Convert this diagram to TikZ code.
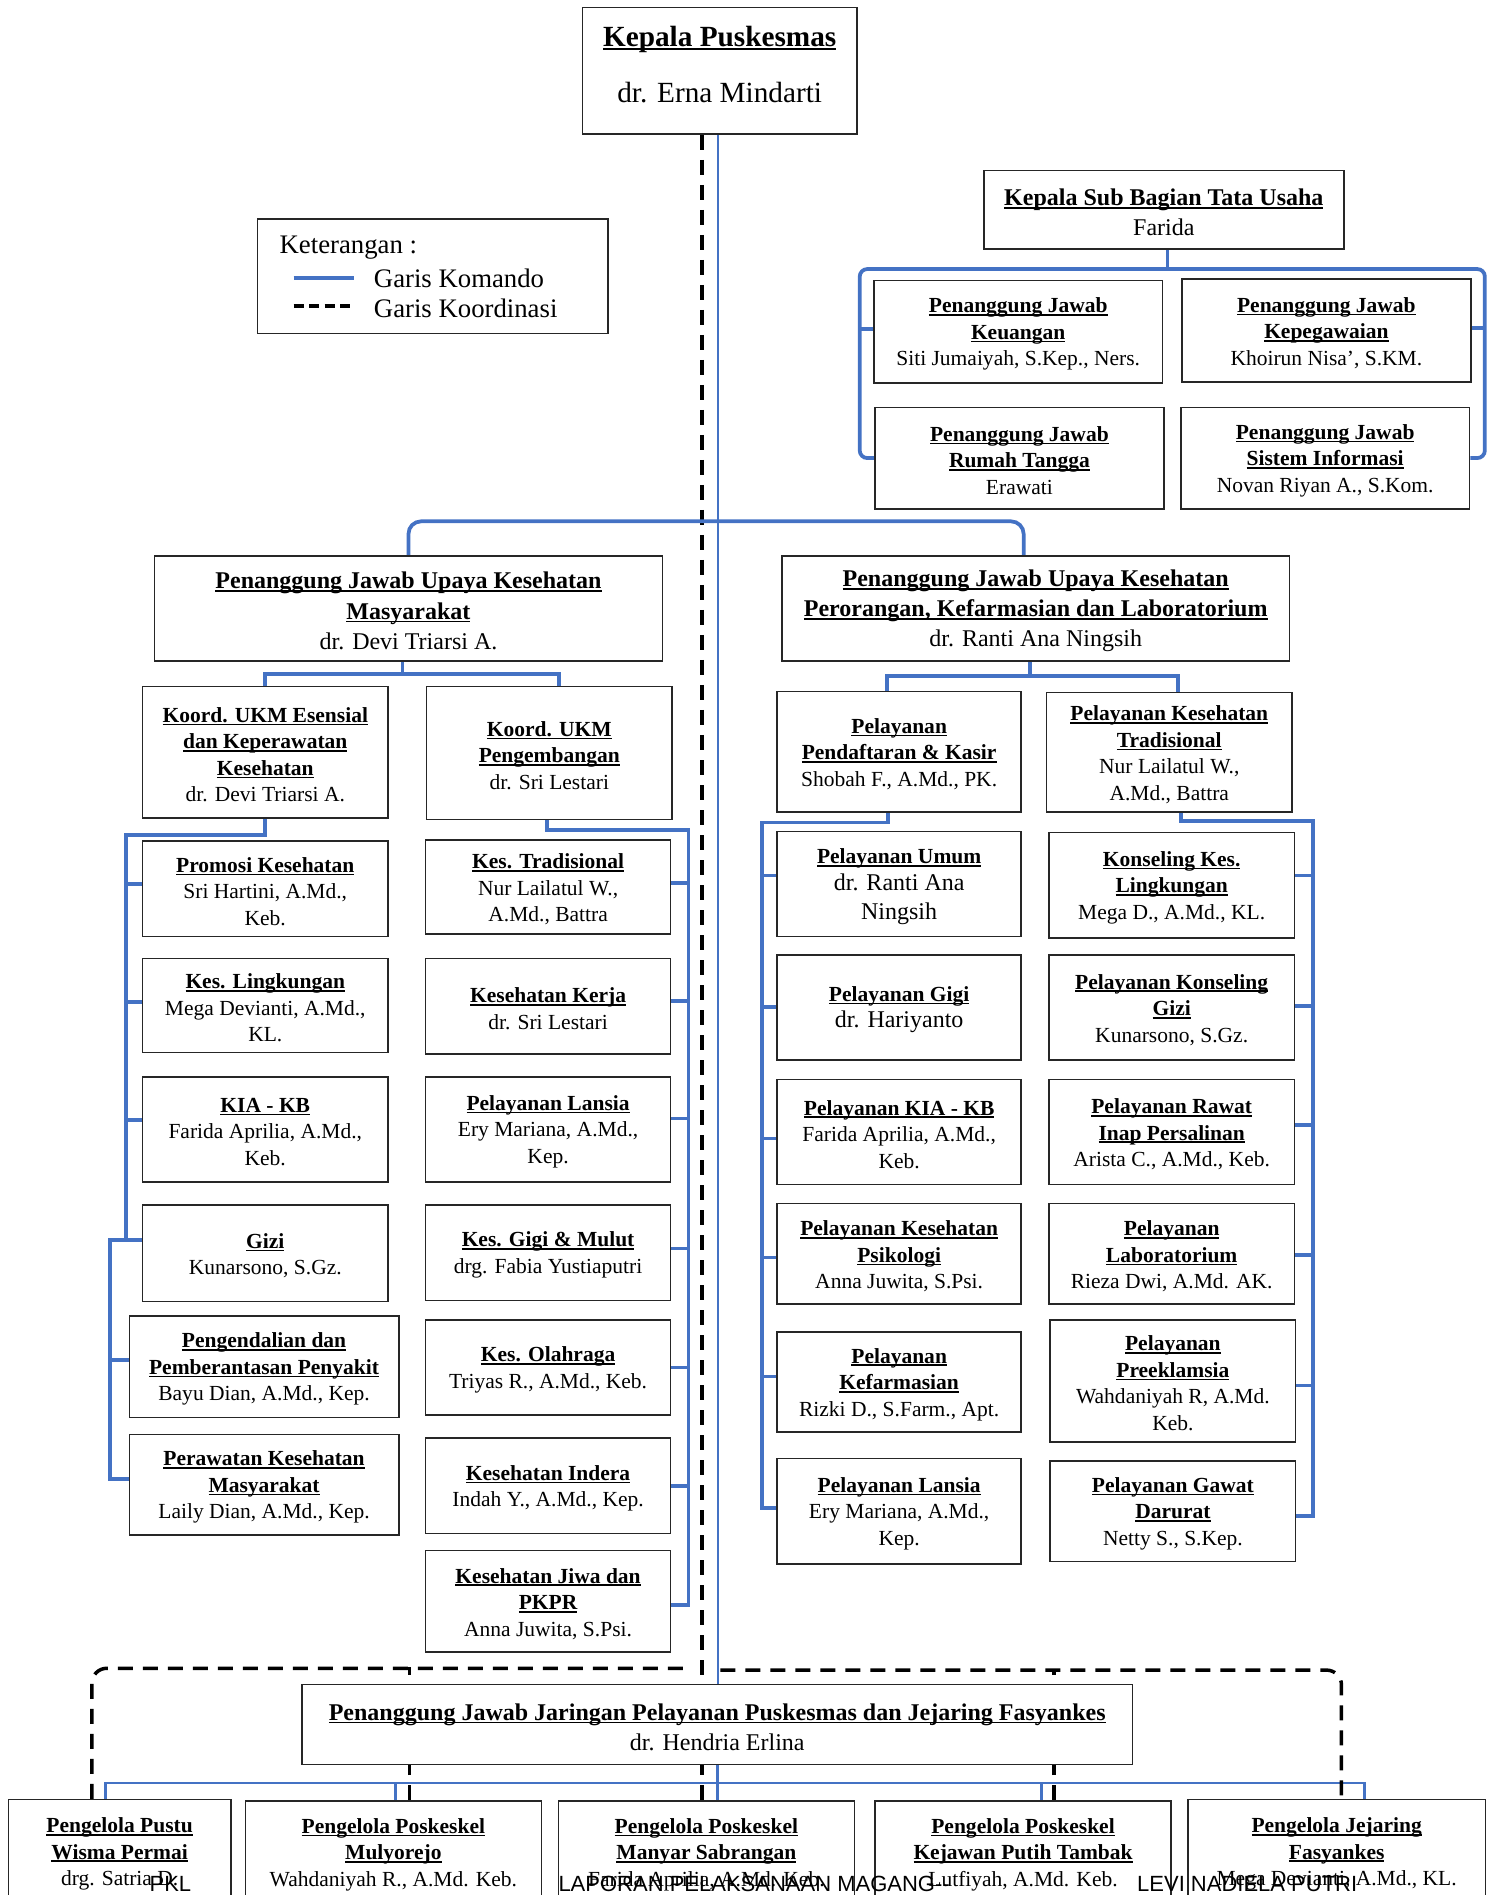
\documentclass[tikz,border=0pt]{standalone}
\usepackage{fontspec}
\setmainfont{Liberation Serif}
\newfontfamily\footfont{Liberation Sans}
\usetikzlibrary{fit,calc}
\pgfdeclarelayer{bg}
\pgfsetlayers{bg,main}
\definecolor{kblue}{HTML}{4472C4}
\newcommand\hdl[1]{\leavevmode\setbox0\hbox{\bfseries #1}\rlap{\rule[-0.14em]{\wd0}{0.075em}}\box0}
\newcommand\fsm{\fontsize{8.6pt}{10.6pt}\selectfont}
\newcommand\fbg{\fontsize{9.6pt}{12.1pt}\selectfont}
\newcommand\ftop{\fontsize{11.7pt}{14pt}\selectfont}
\newcommand\fleg{\fontsize{10.7pt}{12.1pt}\selectfont}
\tikzset{
  box/.style={draw=black!85, line width=0.6pt, fill=white, inner sep=0pt},
  txt/.style={inner sep=0pt},
  cmd/.style={draw=kblue, line width=1.5pt},
  cmdt/.style={draw=kblue, line width=1.1pt},
  crd/.style={draw=black, line width=1.4pt, dash pattern=on 6pt off 4pt},
}
% box: font, name, fit corners, text
\newcommand\bx[4]{\node[box, fit={#3}] (#2) {};
  \node[txt, align=center, font=#1] (#2-t) at ($(#2.center)+(0,2)$) {#4};}
\begin{document}
\begin{tikzpicture}[x=0.48336pt, y=-0.48336pt]
\useasboundingbox (0,0) rectangle (1238,1568);

% top
\node[box, fit={(482,6) (709,111)}] (kp) {};
\node[txt, align=center, font=\ftop] (kp-t) at ($(kp.center)+(0,-5)$) {\hdl{Kepala Puskesmas}\\[8.7pt]dr. Erna Mindarti};

% legend
\node[box, fit={(213,181) (503,276)}] (leg) {};
\node[txt, font=\fleg, anchor=west] (lk0) at (231,205) {Keterangan :};
\node[txt, font=\fleg, anchor=west] (lk1) at (309,230) {Garis Komando};
\node[txt, font=\fleg, anchor=west] (lk2) at (309,255) {Garis Koordinasi};
\draw[draw=kblue, line width=1.6pt] ($(lk1.west)+(-66,0)$) -- ($(lk1.west)+(-16,0)$);
\draw[line width=1.6pt, dash pattern=on 4pt off 2.2pt] ($(lk2.west)+(-66,-2)$) -- ($(lk2.west)+(-16,-2)$);

% tata usaha
\bx{\fbg}{tu}{(814,141) (1112,206)}{\hdl{Kepala Sub Bagian Tata Usaha}\\Farida}
\bx{\fsm}{keu}{(723,232) (962,317)}{\hdl{Penanggung Jawab}\\\hdl{Keuangan}\\Siti Jumaiyah, S.Kep., Ners.}
\bx{\fsm}{kpg}{(978,231) (1217,316)}{\hdl{Penanggung Jawab}\\\hdl{Kepegawaian}\\Khoirun Nisa’, S.KM.}
\bx{\fsm}{rt}{(724,337) (963,421)}{\hdl{Penanggung Jawab}\\\hdl{Rumah Tangga}\\Erawati}
\bx{\fsm}{si}{(977,337) (1216,421)}{\hdl{Penanggung Jawab}\\\hdl{Sistem Informasi}\\Novan Riyan A., S.Kom.}

% UKM / UKP
\bx{\fbg}{ukm}{(128,460) (548,547)}{\hdl{Penanggung Jawab Upaya Kesehatan}\\\hdl{Masyarakat}\\dr. Devi Triarsi A.}
\bx{\fbg}{ukp}{(647,460) (1067,547)}{\hdl{Penanggung Jawab Upaya Kesehatan}\\\hdl{Perorangan, Kefarmasian dan Laboratorium}\\dr. Ranti Ana Ningsih}

% UKM left column
\bx{\fsm}{ess}{(118,568) (321,677)}{\hdl{Koord. UKM Esensial}\\\hdl{dan Keperawatan}\\\hdl{Kesehatan}\\dr. Devi Triarsi A.}
\bx{\fsm}{promo}{(118,696) (321,775)}{\hdl{Promosi Kesehatan}\\Sri Hartini, A.Md.,\\Keb.}
\bx{\fsm}{ling}{(118,793) (321,871)}{\hdl{Kes. Lingkungan}\\Mega Devianti, A.Md.,\\KL.}
\bx{\fsm}{kia}{(118,891) (321,978)}{\hdl{KIA - KB}\\Farida Aprilia, A.Md.,\\Keb.}
\bx{\fsm}{gizi}{(118,997) (321,1077)}{\hdl{Gizi}\\Kunarsono, S.Gz.}
\bx{\fsm}{p2p}{(107,1089) (330,1173)}{\hdl{Pengendalian dan}\\\hdl{Pemberantasan Penyakit}\\Bayu Dian, A.Md., Kep.}
\bx{\fsm}{pkm}{(107,1187) (330,1270)}{\hdl{Perawatan Kesehatan}\\\hdl{Masyarakat}\\Laily Dian, A.Md., Kep.}

% UKM right column
\bx{\fsm}{pgb}{(353,568) (556,678)}{\hdl{Koord. UKM}\\\hdl{Pengembangan}\\dr. Sri Lestari}
\bx{\fsm}{trad}{(352,695) (555,773)}{\hdl{Kes. Tradisional}\\Nur Lailatul W.,\\A.Md., Battra}
\bx{\fsm}{kerja}{(352,793) (555,872)}{\hdl{Kesehatan Kerja}\\dr. Sri Lestari}
\bx{\fsm}{lansia}{(352,891) (555,978)}{\hdl{Pelayanan Lansia}\\Ery Mariana, A.Md.,\\Kep.}
\bx{\fsm}{gigi}{(352,997) (555,1076)}{\hdl{Kes. Gigi \& Mulut}\\drg. Fabia Yustiaputri}
\bx{\fsm}{olah}{(352,1092) (555,1171)}{\hdl{Kes. Olahraga}\\Triyas R., A.Md., Keb.}
\bx{\fsm}{indera}{(352,1190) (555,1269)}{\hdl{Kesehatan Indera}\\Indah Y., A.Md., Kep.}
\bx{\fsm}{jiwa}{(352,1283) (555,1367)}{\hdl{Kesehatan Jiwa dan}\\\hdl{PKPR}\\Anna Juwita, S.Psi.}

% UKP left column
\bx{\fsm}{daftar}{(643,572) (845,672)}{\hdl{Pelayanan}\\\hdl{Pendaftaran \& Kasir}\\Shobah F., A.Md., PK.}
\bx{\fsm}{umum}{(643,688) (845,775)}{\hdl{Pelayanan Umum}\\{\fbg dr. Ranti Ana}\\[1pt]{\fbg Ningsih}}
\bx{\fsm}{pgigi}{(643,790) (845,877)}{\hdl{Pelayanan Gigi}\\{\fbg dr. Hariyanto}}
\bx{\fsm}{pkia}{(643,893) (845,980)}{\hdl{Pelayanan KIA - KB}\\Farida Aprilia, A.Md.,\\Keb.}
\bx{\fsm}{psiko}{(643,996) (845,1079)}{\hdl{Pelayanan Kesehatan}\\\hdl{Psikologi}\\Anna Juwita, S.Psi.}
\bx{\fsm}{farm}{(643,1102) (845,1185)}{\hdl{Pelayanan}\\\hdl{Kefarmasian}\\Rizki D., S.Farm., Apt.}
\bx{\fsm}{plansia}{(643,1207) (845,1294)}{\hdl{Pelayanan Lansia}\\Ery Mariana, A.Md.,\\Kep.}

% UKP right column
\bx{\fsm}{ptrad}{(866,573) (1069,672)}{\hdl{Pelayanan Kesehatan}\\\hdl{Tradisional}\\Nur Lailatul W.,\\A.Md., Battra}
\bx{\fsm}{kling}{(868,689) (1071,776)}{\hdl{Konseling Kes.}\\\hdl{Lingkungan}\\Mega D., A.Md., KL.}
\bx{\fsm}{kgizi}{(868,790) (1071,877)}{\hdl{Pelayanan Konseling}\\\hdl{Gizi}\\Kunarsono, S.Gz.}
\bx{\fsm}{inap}{(868,893) (1071,980)}{\hdl{Pelayanan Rawat}\\\hdl{Inap Persalinan}\\Arista C., A.Md., Keb.}
\bx{\fsm}{lab}{(868,996) (1071,1079)}{\hdl{Pelayanan}\\\hdl{Laboratorium}\\Rieza Dwi, A.Md. AK.}
\bx{\fsm}{pre}{(869,1092) (1072,1193)}{\hdl{Pelayanan}\\\hdl{Preeklamsia}\\Wahdaniyah R, A.Md.\\Keb.}
\bx{\fsm}{ugd}{(869,1209) (1072,1292)}{\hdl{Pelayanan Gawat}\\\hdl{Darurat}\\Netty S., S.Kep.}

% Jaringan
\bx{\fbg}{jar}{(250,1394) (937,1460)}{\hdl{Penanggung Jawab Jaringan Pelayanan Puskesmas dan Jejaring Fasyankes}\\dr. Hendria Erlina}
\bx{\fsm}{pustu}{(7,1489) (191,1575)}{\hdl{Pengelola Pustu}\\\hdl{Wisma Permai}\\drg. Satria D.}
\bx{\fsm}{mul}{(203,1490) (448,1575)}{\hdl{Pengelola Poskeskel}\\\hdl{Mulyorejo}\\Wahdaniyah R., A.Md. Keb.}
\bx{\fsm}{man}{(462,1490) (707,1575)}{\hdl{Pengelola Poskeskel}\\\hdl{Manyar Sabrangan}\\Farida Aprilia, A.Md. Keb.}
\bx{\fsm}{kej}{(724,1490) (969,1575)}{\hdl{Pengelola Poskeskel}\\\hdl{Kejawan Putih Tambak}\\Lutfiyah, A.Md. Keb.}
\bx{\fsm}{jej}{(983,1489) (1229,1575)}{\hdl{Pengelola Jejaring}\\\hdl{Fasyankes}\\Mega Devianti, A.Md., KL.}

% footer
\node[txt, font={\footfont\fontsize{8.8pt}{10pt}\selectfont}] (f1) at (141,1559) {PKL};
\node[txt, font={\footfont\fontsize{8.8pt}{10pt}\selectfont}] (f2) at (624,1559) {LAPORAN PELAKSANAAN MAGANG--};
\node[txt, font={\footfont\fontsize{8.8pt}{10pt}\selectfont}] (f3) at (1032,1559) {LEVI NADIELA PUTRI};

\begin{pgfonlayer}{bg}
% main lines
\coordinate (bm) at ($(kp.south)+(-1.5,0)$);
\coordinate (dm) at ($(kp.south)+(-14.5,0)$);
\draw[cmdt] (bm) -- (bm |- jar.north);
\draw[cmdt] (jar.south) -- (jar.south |- man.north);
\draw[crd] (dm) -- (dm |- man.north);

% tata usaha bracket
\draw[cmd] ($(tu.south)+(3,0)$) -- ++(0,16);
\draw[cmd, rounded corners=3] (rt.west) -- ++(-12,0) |- ($(tu.south)+(3,16)$) -| ($(si.east)+(12,0)$) -- (si.east);
\draw[cmd] ($(keu.west)+(0,-2)$) -- ++(-11,0);
\draw[cmd] ($(kpg.east)+(0,-2)$) -- ++(11,0);

% UKM / UKP split
\draw[cmd, rounded corners=5] (ukm.north) -- ++(0,-28) -| ($(ukp.north)+(-10,0)$);

% under UKM
\draw[cmd] ($(ukm.south)+(-5,0)$) -- ++(0,11);
\draw[cmd] (ess.north) -- ++(0,-10) -| ($(pgb.north)+(8,0)$);

% under UKP
\draw[cmd] ($(ukp.south)+(-5,0)$) -- ++(0,13);
\draw[cmd] ($(daftar.north)+(-10,0)$) -- ++(0,-12) -| ($(ptrad.north)+(7,0)$);

% Esensial chain
\draw[cmd] (ess.south) -- ++(0,13) -| ($(gizi.west)+(-13,-11)$) -- ($(gizi.west)+(0,-11)$);
\draw[cmd] ($(promo.west)+(-13,-4)$) -- ($(promo.west)+(0,-4)$);
\draw[cmd] ($(ling.west)+(-13,-3)$) -- ($(ling.west)+(0,-3)$);
\draw[cmd] ($(kia.west)+(-13,-7.5)$) -- ($(kia.west)+(0,-7.5)$);
\draw[cmd] ($(gizi.west)+(-13,-11)$) -- ++(-13.5,0) |- ($(pkm.west)+(0,-4.5)$);
\draw[cmd] ($(p2p.west)+(-15.5,-5.5)$) -- ($(p2p.west)+(0,-5.5)$);

% Pengembangan chain
\draw[cmd] ($(pgb.south)+(-2,0)$) -- ++(0,8) -| ($(jiwa.east)+(14,3)$) -- ($(jiwa.east)+(0,3)$);
\draw[cmd] ($(trad.east)+(0,-3.5)$) -- ++(14,0);
\draw[cmd] ($(kerja.east)+(0,-4.5)$) -- ++(14,0);
\draw[cmd] ($(lansia.east)+(0,-9)$) -- ++(14,0);
\draw[cmd] ($(gigi.east)+(0,-3.5)$) -- ++(14,0);
\draw[cmd] (olah.east) -- ++(14,0);
\draw[cmd] (indera.east) -- ++(14,0);

% Pendaftaran chain
\draw[cmd] ($(daftar.south)+(-9,0)$) -- ++(0,8) -| ($(plansia.west)+(-12,-3)$) -- ($(plansia.west)+(0,-3)$);
\draw[cmd] ($(umum.west)+(0,-7)$) -- ++(-12,0);
\draw[cmd] (pgigi.west) -- ++(-12,0);
\draw[cmd] ($(pkia.west)+(0,5.5)$) -- ++(-12,0);
\draw[cmd] ($(psiko.west)+(0,3)$) -- ++(-12,0);
\draw[cmd] ($(farm.west)+(0,-4.5)$) -- ++(-12,0);

% Pelayanan Tradisional chain
\draw[cmd] ($(ptrad.south)+(10,0)$) -- ++(0,7) -| ($(ugd.east)+(14,4)$) -- ($(ugd.east)+(0,4)$);
\draw[cmd] ($(kling.east)+(0,-8)$) -- ++(15,0);
\draw[cmd] ($(kgizi.east)+(0,-1)$) -- ++(15,0);
\draw[cmd] ($(inap.east)+(0,-5.5)$) -- ++(15,0);
\draw[cmd] ($(lab.east)+(0,1)$) -- ++(15,0);
\draw[cmd] ($(pre.east)+(0,4)$) -- ++(14,0);

% Jaringan children
\draw[cmdt] ($(pustu.north)+(-12,0)$) -- ++(0,-13) -| ($(jej.north)+(23,0)$);
\draw[cmdt] ($(mul.north)+(2,0)$) -- ++(0,-14);
\draw[cmdt] ($(kej.north)+(15.5,0)$) -- ++(0,-14);

% coordination lines at bottom
\draw[crd, rounded corners=6] ($(pustu.north)+(-23,0)$) |- ($(jar.north)+(-22,-13)$);
\draw[crd, rounded corners=6] ($(jar.north)+(2.5,-11.5)$) -| ($(jej.north)+(4,0)$);
\draw[crd] ($(mul.north)+(13.5,0)$) -- ++(0,-110);
\draw[crd] ($(kej.north)+(25.5,0)$) -- ++(0,-108);
\end{pgfonlayer}
\end{tikzpicture}
\end{document}
